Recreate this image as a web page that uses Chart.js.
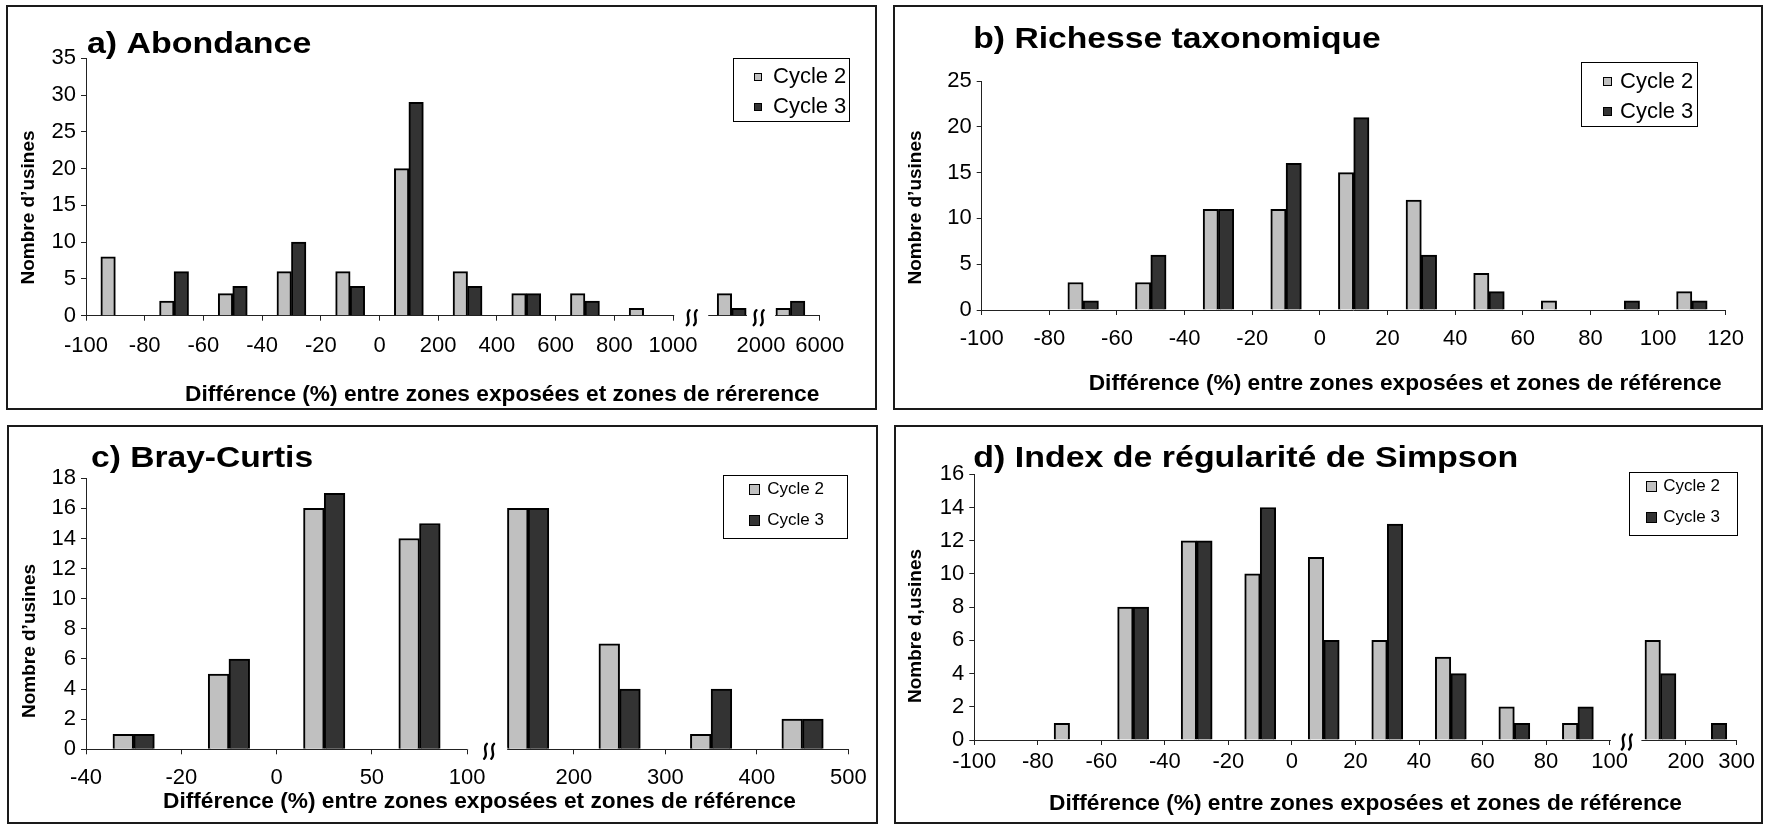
<!DOCTYPE html>
<html lang="fr">
<head>
<meta charset="utf-8">
<title>Nombre d’usines selon la différence entre zones exposées et zones de référence</title>
<script src="https://cdn.jsdelivr.net/npm/chart.js@4.4.1/dist/chart.umd.min.js"></script>
<style>
  html, body { margin: 0; padding: 0; background: #fff; }
  body { position: relative; width: 1770px; height: 825px; overflow: hidden; }
  .frame { position: absolute; box-sizing: border-box; border: 2px solid #1a1a1a; background: #fff; }
  canvas { position: absolute; }
</style>
</head>
<body>
<div class="frame" id="frame-a"></div>
<div class="frame" id="frame-b"></div>
<div class="frame" id="frame-c"></div>
<div class="frame" id="frame-d"></div>
<canvas id="chart-a"></canvas>
<canvas id="chart-b"></canvas>
<canvas id="chart-c"></canvas>
<canvas id="chart-d"></canvas>
<script>
// ---------- data: number of plants per class of difference (%) ----------
const SERIES_NAMES = ['Cycle 2', 'Cycle 3'];

// a) Abondance — class limits and counts per class
const abondanceEdges  = ['-100', '-80', '-60', '-40', '-20', '0', '200', '400', '600', '800', '1000', '2000', '6000'];
const abondanceCycle2 = [8, 2, 3, 6, 6, 20, 6, 3, 3, 1, 3, 1];
const abondanceCycle3 = [0, 6, 4, 10, 4, 29, 4, 3, 2, 0, 1, 2];

// b) Richesse taxonomique
const richesseEdges  = ['-100', '-80', '-60', '-40', '-20', '0', '20', '40', '60', '80', '100', '120'];
const richesseCycle2 = [0, 3, 3, 11, 11, 15, 12, 4, 1, 0, 2];
const richesseCycle3 = [0, 1, 6, 11, 16, 21, 6, 2, 0, 1, 1];

// c) Bray-Curtis
const brayEdges  = ['-40', '-20', '0', '50', '100', '200', '300', '400', '500'];
const brayCycle2 = [1, 5, 16, 14, 16, 7, 1, 2];
const brayCycle3 = [1, 6, 17, 15, 16, 4, 4, 2];

// d) Index de régularité de Simpson
const simpsonEdges  = ['-100', '-80', '-60', '-40', '-20', '0', '20', '40', '60', '80', '100', '200', '300'];
const simpsonCycle2 = [0, 1, 8, 12, 10, 11, 6, 5, 2, 1, 6, 0];
const simpsonCycle3 = [0, 0, 8, 12, 14, 6, 13, 4, 1, 2, 4, 1];

// ---------- styling ----------
const FONT = "'Liberation Sans', Arial, Helvetica, sans-serif";
const AXIS_COLOR = '#222';
const FILL = ['#c0c0c0', '#333333'];
Chart.defaults.font.family = FONT;
Chart.defaults.color = '#000';

const X_TITLE = 'Différence (%) entre zones exposées et zones de référence';

// Panel layout (page pixels). The class axis runs in "slot" units: one unit per class;
// classes beyond `cut` sit after an axis break, shifted by `gap` and scaled by `stretch`.
const PANELS = [
  {
    id: 'a', frame: [6, 5, 871, 405],
    title: 'a) Abondance', titleAt: [87, 53.3], titleStretch: 1.17,
    yTitle: 'Nombre d’usines', yTitleAt: [29, 207.5],
    xTitle: 'Différence (%) entre zones exposées et zones de rérerence', xTitleAt: [819.3, 395], xTitleAlign: 'right',
    plot: { left: 86, top: 58.3, right: 819.75, bottom: 315.7 },
    yMax: 35, yStep: 5, xLabelPad: 11.8, barThickness: 14.5,
    edges: abondanceEdges, cycle2: abondanceCycle2, cycle3: abondanceCycle3,
    cut: { at: 10, gap: 0.5, stretch: 1 },
    breaks: [{ from: 10.02, to: 10.6, mark: 10.32 }, { from: 11.26, to: 11.74, mark: 11.46 }],
    legend: { box: [733.3, 58.3, 116.7, 64.4], rows: [76.7, 107.3], swatchX: 754, swatch: 8, textX: 773, font: 22 }
  },
  {
    id: 'b', frame: [893, 5, 870, 405],
    title: 'b) Richesse taxonomique', titleAt: [973.3, 48.3], titleStretch: 1.16,
    yTitle: 'Nombre d’usines', yTitleAt: [915.7, 207.5],
    xTitle: X_TITLE, xTitleAt: [1721.7, 384], xTitleAlign: 'right',
    plot: { left: 981.7, top: 81, right: 1725.7, bottom: 310 },
    yMax: 25, yStep: 5, xLabelPad: 10.8, barThickness: 15.3,
    edges: richesseEdges, cycle2: richesseCycle2, cycle3: richesseCycle3,
    cut: null, breaks: [],
    legend: { box: [1581, 62.3, 116.7, 65], rows: [81.7, 111.7], swatchX: 1602.5, swatch: 9, textX: 1620, font: 22 }
  },
  {
    id: 'c', frame: [7, 425, 871, 399],
    title: 'c) Bray-Curtis', titleAt: [91, 466.7], titleStretch: 1.158,
    yTitle: 'Nombre d’usines', yTitleAt: [29.3, 641],
    xTitle: X_TITLE, xTitleAt: [479.5, 801.7], xTitleAlign: 'center',
    plot: { left: 86, top: 478.3, right: 848.3, bottom: 749.3 },
    yMax: 18, yStep: 2, xLabelPad: 10.8, barThickness: 20.7,
    edges: brayEdges, cycle2: brayCycle2, cycle3: brayCycle3,
    cut: { at: 4, gap: 0.16, stretch: 0.96 },
    breaks: [{ from: 4.01, to: 4.42, mark: 4.23 }],
    legend: { box: [723.3, 475, 125, 64.3], rows: [489.5, 520.5], swatchX: 749.3, swatch: 11, textX: 767.3, font: 17 }
  },
  {
    id: 'd', frame: [894, 425, 869, 399],
    title: 'd) Index de régularité de Simpson', titleAt: [973.3, 466.7], titleStretch: 1.17,
    yTitle: 'Nombre d,usines', yTitleAt: [915.7, 626],
    xTitle: X_TITLE, xTitleAt: [1365.5, 803.3], xTitleAlign: 'center',
    plot: { left: 974.3, top: 474.3, right: 1736.7, bottom: 740 },
    yMax: 16, yStep: 2, xLabelPad: 3.5, barThickness: 15.5,
    edges: simpsonEdges, cycle2: simpsonCycle2, cycle3: simpsonCycle3,
    cut: { at: 10, gap: 0.4, stretch: 0.8 },
    breaks: [{ from: 10.02, to: 10.5, mark: 10.27 }],
    legend: { box: [1629, 471.7, 109.3, 64], rows: [486.7, 517], swatchX: 1646, swatch: 11, textX: 1663.3, font: 17 }
  }
];

// position of a class limit (integer) or class centre (half-integer) on the broken axis
function makeSlot(cut) {
  return e => (!cut || e <= cut.at) ? e : cut.at + cut.gap + (e - cut.at) * cut.stretch;
}

function drawText(ctx, text, x, y, o) {
  ctx.save();
  ctx.translate(x, y);
  if (o.rotate) ctx.rotate(o.rotate);
  ctx.scale(o.stretch || 1, 1);
  ctx.font = (o.bold ? 'bold ' : '') + o.size + 'px ' + FONT;
  ctx.textAlign = o.align || 'left';
  ctx.textBaseline = o.baseline || 'alphabetic';
  ctx.fillStyle = '#000';
  ctx.fillText(text, 0, 0);
  ctx.restore();
}

// two wavy strokes marking a break in the class axis
function drawBreakMark(ctx, xc, yc) {
  ctx.save();
  ctx.strokeStyle = '#000';
  ctx.lineWidth = 2.4;
  ctx.lineCap = 'round';
  for (const dx of [-3.6, 3.6]) {
    const x = xc + dx;
    ctx.beginPath();
    ctx.moveTo(x + 1.4, yc - 7.5);
    ctx.bezierCurveTo(x - 3.8, yc - 3, x + 3.8, yc + 3, x - 1.4, yc + 7.5);
    ctx.stroke();
  }
  ctx.restore();
}

function makeDecor(p) {
  const [fx, fy] = p.frame;
  return {
    id: 'panelDecor',
    afterDraw(chart) {
      const { ctx } = chart;
      const xs = chart.scales.x, ys = chart.scales.y;
      const y0 = ys.getPixelForValue(0);

      // axis breaks: interrupt the base line and draw the break sign
      for (const b of p.breaks) {
        const x1 = xs.getPixelForValue(b.from), x2 = xs.getPixelForValue(b.to);
        ctx.save();
        ctx.fillStyle = '#fff';
        ctx.fillRect(x1, y0 - 2, x2 - x1, 9);
        ctx.restore();
        drawBreakMark(ctx, xs.getPixelForValue(b.mark), y0 + 2);
      }

      // panel title and axis titles
      drawText(ctx, p.title, p.titleAt[0] - fx, p.titleAt[1] - fy, { size: 29, bold: true, stretch: p.titleStretch });
      drawText(ctx, p.yTitle, p.yTitleAt[0] - fx, p.yTitleAt[1] - fy,
        { size: 19, bold: true, rotate: -Math.PI / 2, align: 'center', baseline: 'middle' });
      drawText(ctx, p.xTitle, p.xTitleAt[0] - fx, p.xTitleAt[1] - fy,
        { size: 22.7, bold: true, align: p.xTitleAlign, baseline: 'middle' });

      // legend box
      const L = p.legend;
      const [bx, by, bw, bh] = L.box;
      ctx.save();
      ctx.fillStyle = '#fff';
      ctx.fillRect(bx - fx, by - fy, bw, bh);
      ctx.strokeStyle = '#000';
      ctx.lineWidth = 1;
      ctx.strokeRect(Math.round(bx - fx) + 0.5, Math.round(by - fy) + 0.5, Math.round(bw) - 1, Math.round(bh) - 1);
      chart.data.datasets.forEach((ds, i) => {
        const cy = L.rows[i] - fy;
        const sx = Math.round(L.swatchX - fx), sy = Math.round(cy - L.swatch / 2);
        ctx.fillStyle = ds.backgroundColor;
        ctx.fillRect(sx, sy, L.swatch, L.swatch);
        ctx.strokeStyle = '#000';
        ctx.strokeRect(sx + 0.5, sy + 0.5, L.swatch - 1, L.swatch - 1);
        drawText(ctx, ds.label, L.textX - fx, cy, { size: L.font, baseline: 'middle' });
      });
      ctx.restore();
    }
  };
}

function buildPanel(p) {
  const [fx, fy, fw, fh] = p.frame;
  const frame = document.getElementById('frame-' + p.id);
  Object.assign(frame.style, { left: fx + 'px', top: fy + 'px', width: fw + 'px', height: fh + 'px' });
  const canvas = document.getElementById('chart-' + p.id);
  canvas.width = fw; canvas.height = fh;
  Object.assign(canvas.style, { left: fx + 'px', top: fy + 'px', width: fw + 'px', height: fh + 'px' });

  const slot = makeSlot(p.cut);
  const edgeSlots = p.edges.map((_, j) => slot(j));
  const points = vals => vals.map((v, i) => ({ x: slot(i + 0.5), y: v === 0 ? null : v }));

  const plotL = p.plot.left - fx, plotT = p.plot.top - fy;
  const plotR = p.plot.right - fx, plotB = p.plot.bottom - fy;

  const axisGrid = { display: true, drawOnChartArea: false, drawTicks: true, tickLength: 5, color: AXIS_COLOR, lineWidth: 1, offset: false };
  const axisBorder = { display: true, color: AXIS_COLOR, width: 1 };

  new Chart(canvas, {
    type: 'bar',
    data: {
      datasets: [p.cycle2, p.cycle3].map((vals, k) => ({
        label: SERIES_NAMES[k],
        data: points(vals),
        backgroundColor: FILL[k],
        borderColor: '#000',
        borderWidth: 2,
        borderSkipped: 'start',
        barThickness: p.barThickness
      }))
    },
    options: {
      responsive: false,
      animation: false,
      devicePixelRatio: 1,
      layout: { padding: { left: 0, top: plotT, right: fw - plotR, bottom: 0 } },
      plugins: { legend: { display: false }, tooltip: { enabled: false }, title: { display: false } },
      scales: {
        x: {
          type: 'linear', offset: false, min: 0, max: edgeSlots[edgeSlots.length - 1], bounds: 'data',
          afterBuildTicks: s => { s.ticks = edgeSlots.map(v => ({ value: v })); },
          afterFit: s => { s.height = fh - plotB; },
          ticks: {
            autoSkip: false, maxRotation: 0, minRotation: 0, padding: p.xLabelPad,
            color: '#000', font: { size: 22 },
            callback: (v, i) => p.edges[i]
          },
          grid: axisGrid, border: axisBorder
        },
        y: {
          type: 'linear', min: 0, max: p.yMax,
          afterFit: s => { s.width = plotL; },
          ticks: { stepSize: p.yStep, padding: 5, color: '#000', font: { size: 22 } },
          grid: axisGrid, border: axisBorder
        }
      }
    },
    plugins: [makeDecor(p)]
  });
}

PANELS.forEach(buildPanel);
</script>
</body>
</html>
